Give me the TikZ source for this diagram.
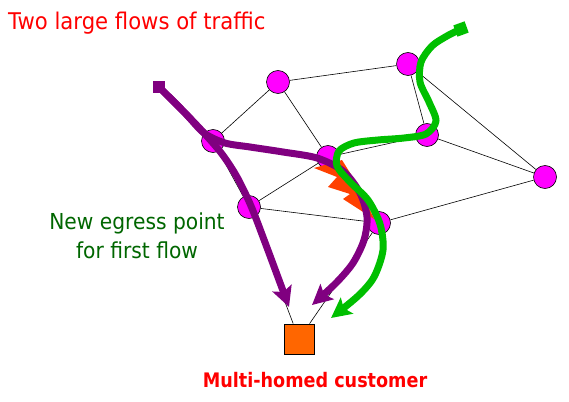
\documentclass[tikz,border=0pt]{standalone}
\usepackage{fontspec}
\newfontfamily\tah[FakeStretch=0.92]{DejaVu Sans}
\newfontfamily\tahb[FakeStretch=0.88]{DejaVu Sans}
\usetikzlibrary{arrows.meta}
\definecolor{nodemag}{HTML}{FF00FF}
\definecolor{flowpurple}{HTML}{800080}
\definecolor{flowgreen}{HTML}{00BF00}
\definecolor{custorange}{HTML}{FF6600}
\definecolor{boltorange}{HTML}{FF4000}
\definecolor{textgreen}{HTML}{006600}
\definecolor{textred}{HTML}{FF0000}
\begin{document}
\begin{tikzpicture}[x=1pt,y=-1pt,
  router/.style={circle,draw=black,line width=0.6pt,fill=nodemag,minimum size=23pt,inner sep=0pt},
  link/.style={black,line width=0.6pt},
  flow/.style={line width=7pt,line join=round,-{Stealth[length=20pt,width=20pt,inset=4pt]}},
  startsq/.style={rectangle,minimum size=12pt,inner sep=0pt},
  custbox/.style={rectangle,draw=black,line width=0.8pt,fill=custorange,minimum size=30pt,inner sep=0pt},
  lbl/.style={inner sep=0pt}]
\useasboundingbox (0,0) rectangle (569,401);
% routers
\node[router] (A) at (278,82) {};
\node[router] (B) at (408,64) {};
\node[router] (C) at (213,141) {};
\node[router] (D) at (328,157) {};
\node[router] (E) at (427,135) {};
\node[router] (F) at (545,177) {};
\node[router] (G) at (249,207) {};
\node[router] (H) at (379,223) {};
\node[custbox] (cust) at (299,339) {};
% links
\draw[link] (A)--(B) (A)--(C) (A)--(D) (B)--(E) (B)--(F) (E)--(F)
  (D)--(E) (C)--(G) (G)--(D) (G)--(H) (H)--(F) (G)--(cust) (H)--(cust);
% failure bolt
\fill[boltorange] (314,168) -- (337,177) -- (328,187) -- (350,194) -- (343,199)
  -- (374,219) -- (362,192) -- (342,160) -- cycle;
% start squares
\node[startsq,fill=flowpurple] (ps) at (159,87) {};
\node[startsq,fill=flowgreen,rotate=20] (gs) at (461,29) {};
% flows
\draw[flow,flowpurple] plot[smooth] coordinates {(ps.center) (185,113) (204,133)
  (222,154) (237,177) (251,206) (266,245) (289,307)};
\draw[flow,flowpurple] plot[smooth] coordinates {(ps.center) (185,113) (204,133)
  (225,143) (250,147) (283,152) (317,158) (343,171) (360,193) (367,217)
  (364,240) (353,263) (336,283) (312,305)};
\draw[flow,flowgreen] plot[smooth] coordinates {(gs.center) (447,36) (432,46)
  (421,62) (420,82) (429,102) (436,121) (426,134) (404,138) (378,140)
  (354,143) (339,151) (337,166) (350,182) (368,200) (380,224) (383,250)
  (374,277) (358,296) (331,318)};
% texts
\node[lbl,anchor=base west,text=textred,font=\tah\fontsize{23}{27}\selectfont] (title) at (8,30) {Two large flows of traffic};
\node[lbl,anchor=base,text=textgreen,font=\tah\fontsize{22}{26}\selectfont] (eg1) at (137,229) {New egress point};
\node[lbl,anchor=base,text=textgreen,font=\tah\fontsize{22}{26}\selectfont] (eg2) at (137,258) {for first flow};
\node[lbl,anchor=base,text=textred,font=\tahb\bfseries\fontsize{20}{24}\selectfont] (custlabel) at (315,387) {Multi-homed customer};
\end{tikzpicture}
\end{document}
